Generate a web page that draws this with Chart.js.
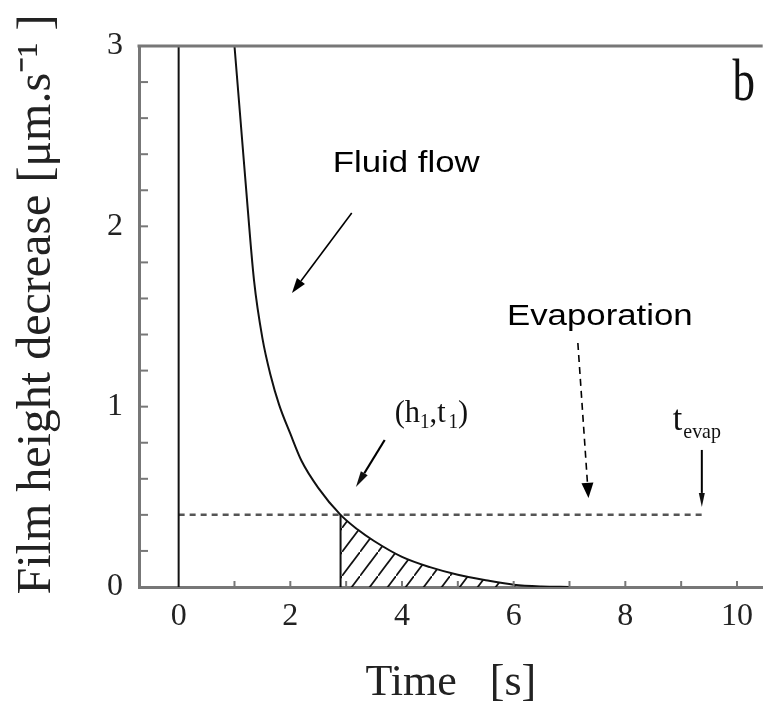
<!DOCTYPE html>
<html lang="en">
<head>
  <meta charset="UTF-8">
  <title>Film height decrease</title>
  <script src="https://cdn.jsdelivr.net/npm/chart.js"></script>
  <style>
    html, body {
      margin: 0;
      padding: 0;
      background: #fff;
    }

    .wrap {
      width: 763px;
      height: 714px;
    }
  </style>
</head>
<body>

<div class="wrap">
  <canvas id="flowChart" width="763" height="714"></canvas>
</div>

<script>
  // values
  const flowTime   = [1.0, 1.1, 1.2, 1.35, 1.5, 1.65, 1.8, 2.0, 2.2, 2.5, 2.9, 3.2, 3.5, 4.0, 4.5, 5.0, 5.5, 6.0, 6.5, 7.0];
  const flowHeight = [3.0, 2.62, 2.24, 1.70, 1.38, 1.17, 1.01, 0.85, 0.70, 0.55, 0.40, 0.32, 0.255, 0.167, 0.11, 0.068, 0.038, 0.013, 0.003, 0.0];
  const t1 = 2.9;      // (h1,t1) point
  const h1 = 0.4;      // evaporation level
  const tEvap = 9.4;
  const xTickValues = [0, 2, 4, 6, 8, 10];
  const yTickValues = [0, 1, 2, 3];

  const serif = "'Liberation Serif', 'Times New Roman', serif";
  const sans = "'Liberation Sans', Arial, sans-serif";

  const flowPoints = flowTime.map((t, i) => ({ x: t, y: flowHeight[i] }));
  const hatchPoints = flowPoints.filter(p => p.x >= t1);

  function hatchPattern() {
    const c = document.createElement('canvas');
    c.width = 18;
    c.height = 24;
    const g = c.getContext('2d');
    g.strokeStyle = '#111';
    g.lineWidth = 1.7;
    g.beginPath();
    g.moveTo(-1.8, 26.4);
    g.lineTo(19.8, -2.4);
    g.stroke();
    return g.createPattern(c, 'repeat');
  }

  function drawArrow(ctx, x0, y0, x1, y1, headLen, headW, dash) {
    const ang = Math.atan2(y1 - y0, x1 - x0);
    const bx = x1 - headLen * Math.cos(ang);
    const by = y1 - headLen * Math.sin(ang);
    ctx.setLineDash(dash || []);
    ctx.beginPath();
    ctx.moveTo(x0, y0);
    ctx.lineTo(bx, by);
    ctx.stroke();
    ctx.setLineDash([]);
    ctx.beginPath();
    ctx.moveTo(x1, y1);
    ctx.lineTo(bx + headW / 2 * Math.sin(ang), by - headW / 2 * Math.cos(ang));
    ctx.lineTo(bx - headW / 2 * Math.sin(ang), by + headW / 2 * Math.cos(ang));
    ctx.closePath();
    ctx.fill();
  }

  function drawText(ctx, text, px, py, font, sx) {
    ctx.save();
    ctx.translate(px, py);
    ctx.scale(sx, 1);
    ctx.font = font;
    ctx.textBaseline = 'alphabetic';
    ctx.fillText(text, 0, 0);
    const w = ctx.measureText(text).width * sx;
    ctx.restore();
    return w;
  }

  // frame, inner ticks and the annotations
  const notesPlugin = {
    id: 'notes',
    afterDraw(chart) {
      const { ctx, chartArea: a, scales: { x, y } } = chart;
      const P = (t, h) => [x.getPixelForValue(t), y.getPixelForValue(h)];
      ctx.save();

      ctx.strokeStyle = '#777';
      ctx.lineWidth = 3;
      ctx.beginPath();
      ctx.moveTo(a.left - 1.5, a.top);
      ctx.lineTo(a.right, a.top);
      ctx.stroke();

      ctx.lineWidth = 2;
      for (let i = 1; i < 15; i++) {
        const py = y.getPixelForValue(i * 0.2);
        ctx.beginPath();
        ctx.moveTo(a.left, py);
        ctx.lineTo(a.left + 9, py);
        ctx.stroke();
      }
      for (let v = 1; v <= 10; v++) {
        const px = x.getPixelForValue(v);
        ctx.beginPath();
        ctx.moveTo(px, a.bottom);
        ctx.lineTo(px, a.bottom - 6);
        ctx.stroke();
      }

      ctx.fillStyle = '#000';
      ctx.strokeStyle = '#000';

      // Fluid flow
      let [px, py] = P(2.76, 2.30);
      drawText(ctx, 'Fluid flow', px, py, '30px ' + sans, 1.16);
      ctx.lineWidth = 1.6;
      let [ax, ay] = P(3.10, 2.074);
      let [bx, by] = P(2.03, 1.63);
      drawArrow(ctx, ax, ay, bx, by, 15, 10);

      // Evaporation
      [px, py] = P(5.88, 1.454);
      drawText(ctx, 'Evaporation', px, py, '30px ' + sans, 1.16);
      [ax, ay] = P(7.15, 1.353);
      [bx, by] = P(7.34, 0.494);
      ctx.lineWidth = 1.6;
      drawArrow(ctx, ax, ay, bx, by, 15, 12, [7, 5]);

      // (h1,t1)
      ctx.fillStyle = '#111';
      [px, py] = P(3.87, 0.915);
      const big = '32px ' + serif, sub = '20px ' + serif;
      px += drawText(ctx, '(h', px, py, big, 0.95);
      px += drawText(ctx, '1', px, py + 6, sub, 0.95);
      px += drawText(ctx, ',t', px, py, big, 0.95);
      px += 3;
      px += drawText(ctx, '1', px, py + 6, sub, 0.95);
      drawText(ctx, ')', px, py, big, 0.95);
      ctx.lineWidth = 2.2;
      [ax, ay] = P(3.69, 0.815);
      [bx, by] = P(3.175, 0.555);
      drawArrow(ctx, ax, ay, bx, by, 16, 8);

      // t_evap
      [px, py] = P(8.85, 0.87);
      px += drawText(ctx, 't', px, py, '36px ' + serif, 0.95);
      drawText(ctx, 'evap', px + 1, py + 8, '21px ' + serif, 0.95);
      ctx.lineWidth = 2;
      [ax, ay] = P(9.37, 0.76);
      [bx, by] = P(9.37, 0.444);
      drawArrow(ctx, ax, ay, bx, by, 14, 6);

      // panel letter
      [px, py] = P(9.92, 2.70);
      drawText(ctx, 'b', px, py, '60px ' + serif, 0.75);

      ctx.restore();
    }
  };

  const ctx = document.getElementById('flowChart').getContext('2d');

  new Chart(ctx, {
    type: 'line',
    data: {
      datasets: [
        {
          data: flowPoints,
          borderColor: '#111',
          borderWidth: 2,
          pointRadius: 0,
          cubicInterpolationMode: 'monotone',
          fill: false
        },
        {
          data: hatchPoints,
          borderWidth: 0,
          borderColor: 'rgba(0,0,0,0)',
          backgroundColor: hatchPattern(),
          pointRadius: 0,
          cubicInterpolationMode: 'monotone',
          fill: 'origin'
        },
        {
          data: [{ x: t1, y: 0 }, { x: t1, y: h1 }],
          borderColor: '#111',
          borderWidth: 2,
          pointRadius: 0,
          fill: false
        },
        {
          data: [{ x: 0, y: 0 }, { x: 0, y: 3 }],
          borderColor: '#111',
          borderWidth: 2,
          pointRadius: 0,
          fill: false
        },
        {
          data: [{ x: 0, y: h1 }, { x: tEvap, y: h1 }],
          borderColor: '#555',
          borderWidth: 2.5,
          borderDash: [6, 5],
          pointRadius: 0,
          fill: false
        }
      ]
    },
    options: {
      responsive: false,
      animation: false,
      events: [],
      layout: {
        padding: { top: 46, right: 0, bottom: 0, left: 0 }
      },
      plugins: {
        legend: { display: false },
        tooltip: { enabled: false }
      },
      scales: {
        x: {
          type: 'linear',
          min: -0.71,
          max: 10.46,
          afterBuildTicks: s => { s.ticks = xTickValues.map(v => ({ value: v })); },
          afterFit: s => { s.height = 127; },
          grid: { drawOnChartArea: false, drawTicks: false },
          border: { color: '#777', width: 3 },
          ticks: {
            padding: 10,
            maxRotation: 0,
            color: '#222',
            font: { family: serif, size: 32 }
          },
          title: {
            display: true,
            text: 'Time   [s]',
            color: '#222',
            font: { family: serif, size: 44 },
            padding: { top: 0, bottom: 4 }
          }
        },
        y: {
          min: 0,
          max: 3,
          afterBuildTicks: s => { s.ticks = yTickValues.map(v => ({ value: v })); },
          afterFit: s => { s.width = 139; },
          grid: { drawOnChartArea: false, drawTicks: false },
          border: { color: '#777', width: 3 },
          ticks: {
            padding: 16,
            color: '#222',
            font: { family: serif, size: 32 }
          },
          title: {
            display: true,
            text: '  Film height decrease [μm.s⁻¹ ]',
            color: '#222',
            font: { family: serif, size: 48 },
            padding: { top: 9, bottom: 0 }
          }
        }
      }
    },
    plugins: [notesPlugin]
  });
</script>

</body>
</html>
